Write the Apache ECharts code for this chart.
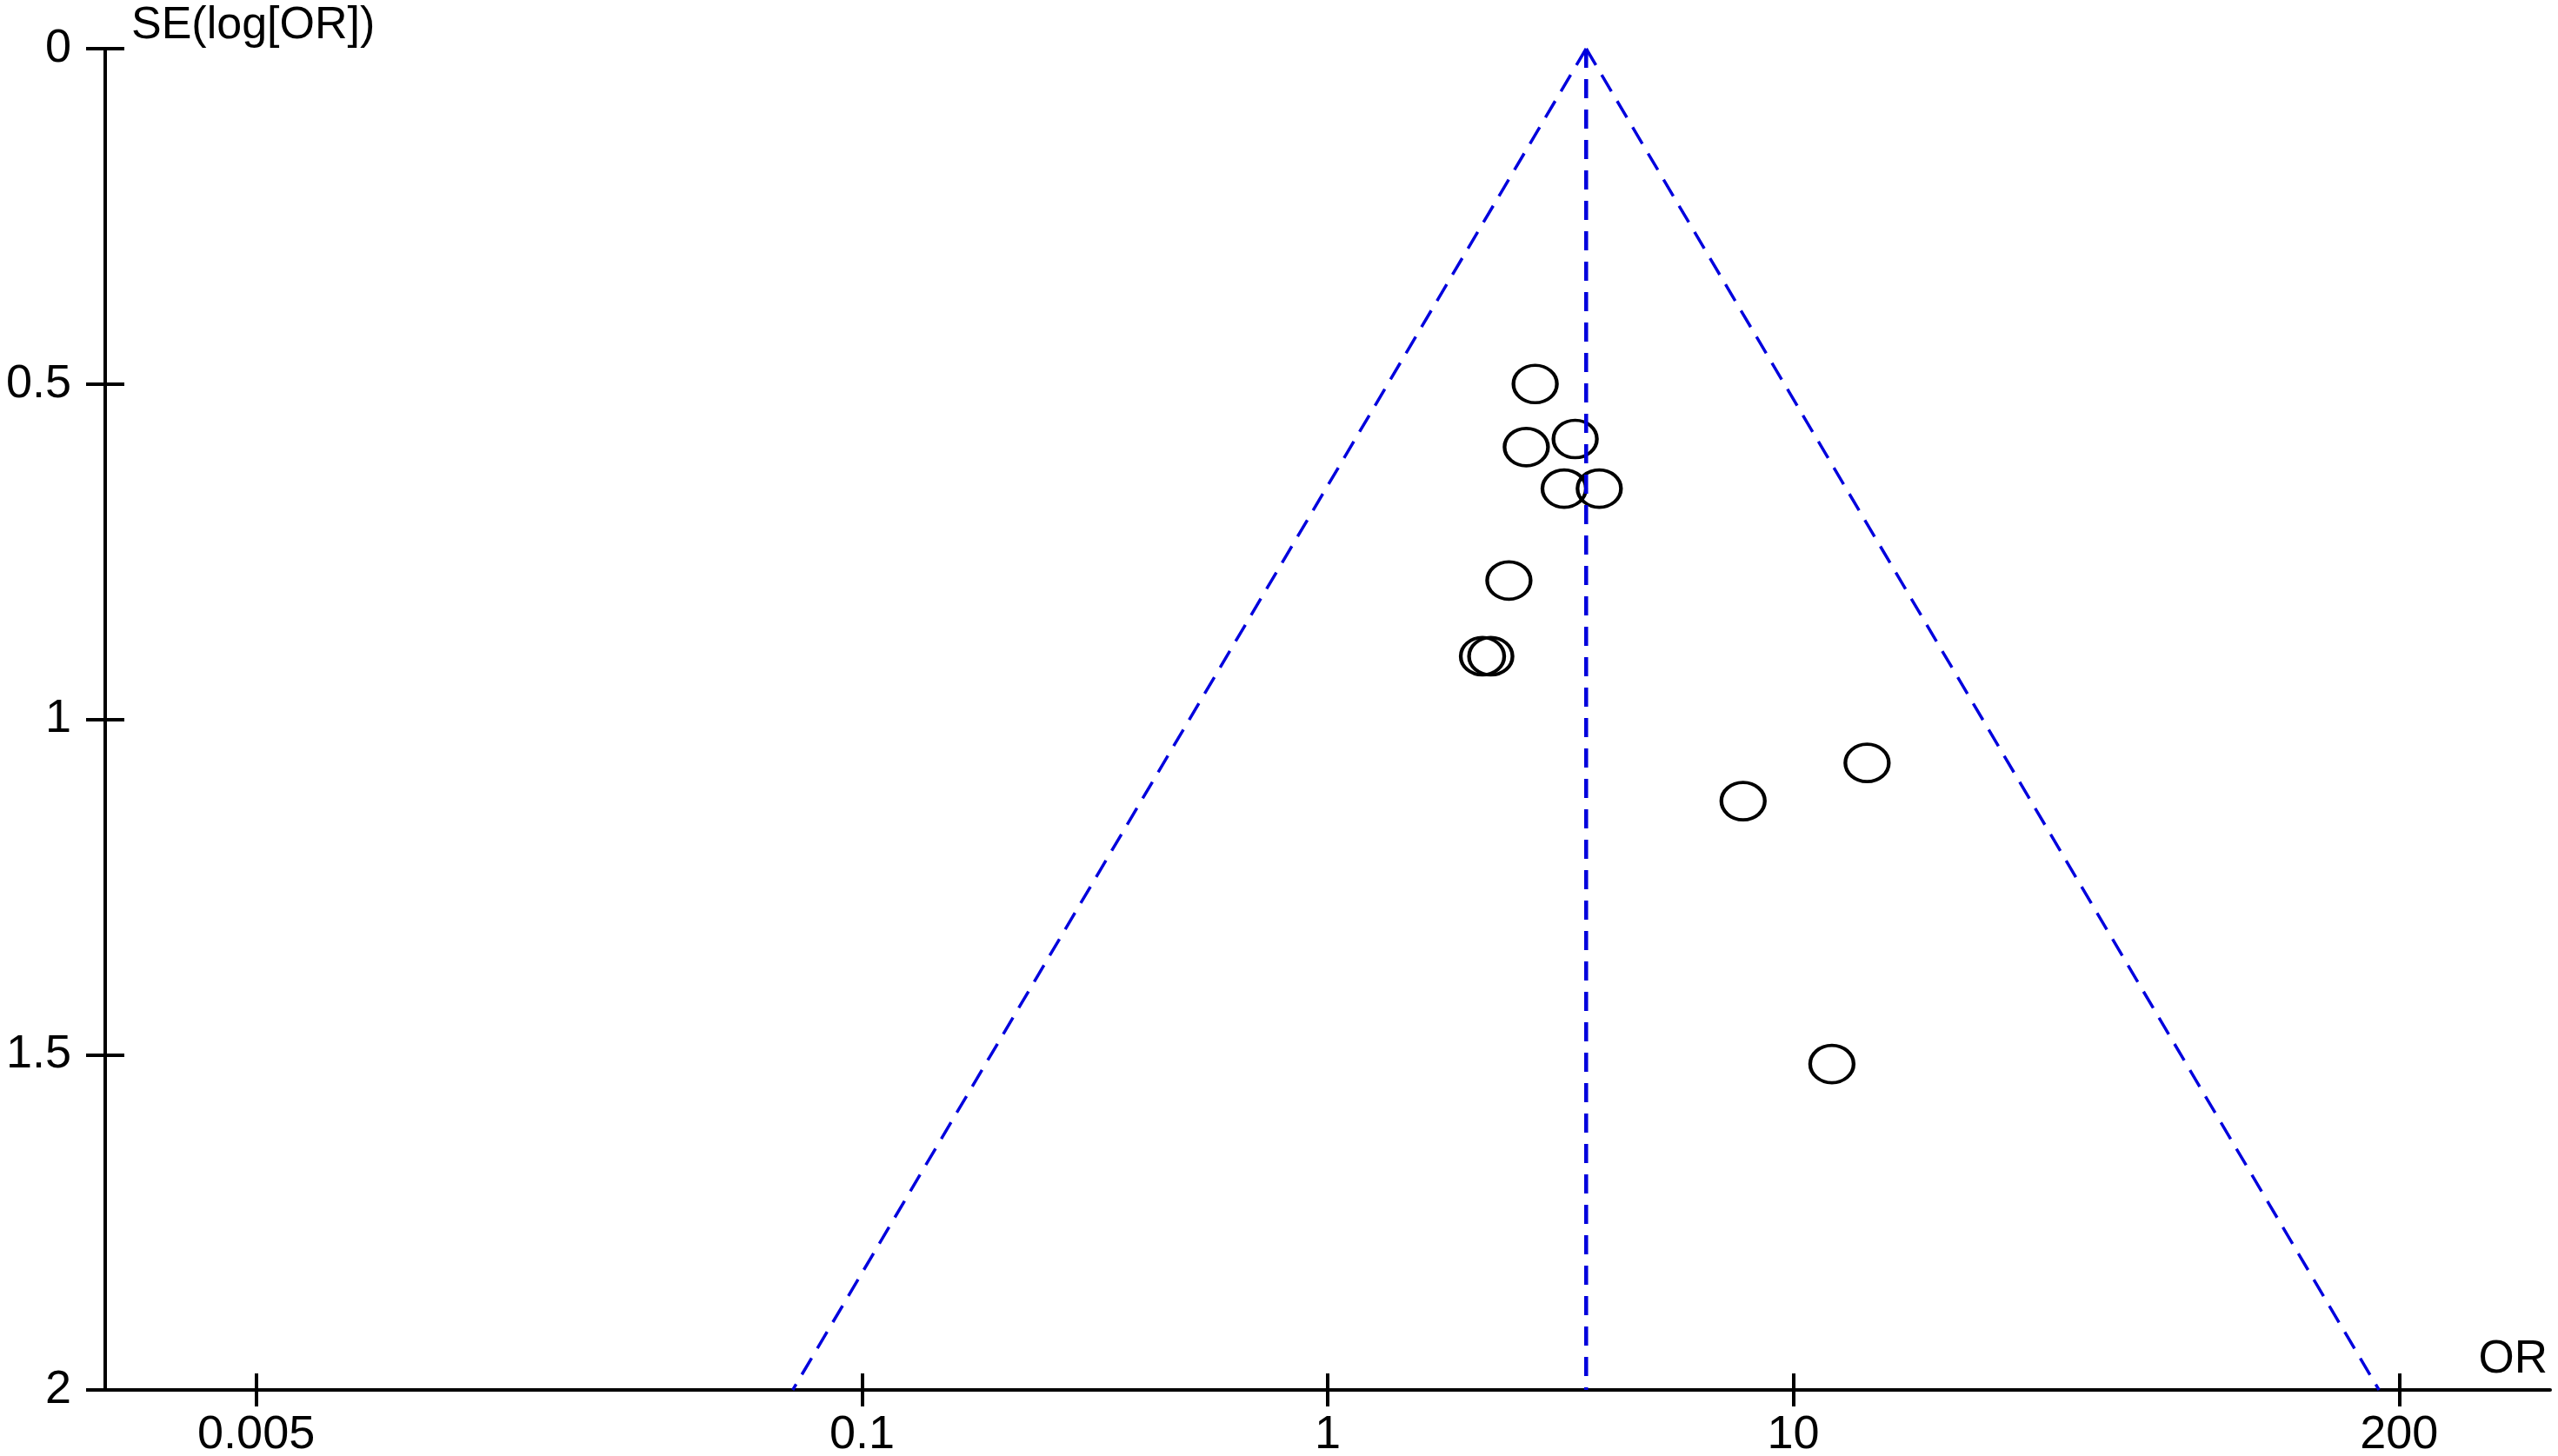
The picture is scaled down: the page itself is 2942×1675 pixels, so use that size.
<!DOCTYPE html>
<html><head><meta charset="utf-8">
<script src="https://cdn.jsdelivr.net/npm/echarts@6/dist/echarts.min.js"></script>
<style>html,body{margin:0;padding:0;background:#fff}#chart{width:2942px;height:1675px}</style>
</head><body><div id="chart"></div>
<script>
// Study estimates (odds ratio, standard error of log OR)
const studyOR = [2.79, 3.40, 2.67, 3.22, 3.83, 2.45, 2.15, 2.24, 14.4, 7.8, 12.1];
const studySE = [0.50, 0.582, 0.594, 0.656, 0.656, 0.793, 0.906, 0.906, 1.065, 1.122, 1.514];
// Pooled estimate and funnel (pseudo 95% CI) limits
const pooledOR = 3.59;
const funnelSE = [0, 2];
const funnelLowerOR = [3.59, 0.071];
const funnelUpperOR = [3.59, 181];
// Axes
const xTickValues = [0.005, 0.1, 1, 10, 200];
const xRange = [0.00237, 422];
const yRange = [0, 2];
const yStep = 0.5;
const xAxisTitle = 'OR';
const yAxisTitle = 'SE(log[OR])';

const FONT = 'Liberation Sans';
const BLUE = '#0000DD';

const scatterData = studyOR.map((v, i) => [v, studySE[i]]);
const vLine = funnelSE.map(s => [pooledOR, s]);
const lLine = funnelSE.map((s, i) => [funnelLowerOR[i], s]);
const rLine = funnelSE.map((s, i) => [funnelUpperOR[i], s]);

const chart = echarts.init(document.getElementById('chart'), null, {renderer: 'canvas'});
const xBase = {
  type: 'log', logBase: 10, min: xRange[0], max: xRange[1], position: 'bottom',
  splitLine: {show: false}, minorTick: {show: false}, minorSplitLine: {show: false}
};
const yBase = {
  type: 'value', min: yRange[0], max: yRange[1], interval: yStep, inverse: true, position: 'left',
  splitLine: {show: false}
};
chart.setOption({
  animation: false,
  backgroundColor: '#fff',
  title: {
    text: xAxisTitle, right: 12, top: 1538, padding: 0,
    textStyle: {fontFamily: FONT, fontSize: 53, fontWeight: 'normal', color: '#000', lineHeight: 53}
  },
  grid: {left: 121, right: 9, top: 56, bottom: 76, containLabel: false, outerBoundsMode: 'none'},
  xAxis: [
    Object.assign({}, xBase, {
      axisLine: {show: true, onZero: false, lineStyle: {color: '#000', width: 4}},
      axisTick: {show: true, inside: false, length: 19, customValues: xTickValues, lineStyle: {color: '#000', width: 4}},
      axisLabel: {show: true, customValues: xTickValues, margin: 25, fontFamily: FONT, fontSize: 54, color: '#000',
        showMinLabel: true, showMaxLabel: true, hideOverlap: false,
        formatter: v => String(+(+v).toPrecision(6))}
    }),
    Object.assign({}, xBase, {
      axisLine: {show: false, onZero: false},
      axisTick: {show: true, inside: true, length: 19, customValues: xTickValues, lineStyle: {color: '#000', width: 4}},
      axisLabel: {show: false}
    })
  ],
  yAxis: [
    Object.assign({}, yBase, {
      name: yAxisTitle, nameLocation: 'start', nameGap: 0, nameMoveOverlap: false,
      nameTextStyle: {fontFamily: FONT, fontSize: 52, color: '#000', align: 'left', verticalAlign: 'bottom', padding: [0, 0, 0, 30]},
      axisLine: {show: true, onZero: false, lineStyle: {color: '#000', width: 4}},
      axisTick: {show: true, inside: false, length: 22, lineStyle: {color: '#000', width: 4}},
      axisLabel: {show: true, margin: 39, fontFamily: FONT, fontSize: 54, color: '#000', showMinLabel: true, showMaxLabel: true}
    }),
    Object.assign({}, yBase, {
      axisLine: {show: false, onZero: false},
      axisTick: {show: true, inside: true, length: 22, lineStyle: {color: '#000', width: 4}},
      axisLabel: {show: false}
    })
  ],
  series: [
    {
      type: 'scatter', xAxisIndex: 0, yAxisIndex: 0, data: scatterData, z: 2,
      symbol: 'circle', symbolSize: [50, 43],
      itemStyle: {color: 'rgba(0,0,0,0)', borderColor: '#000', borderWidth: 4, opacity: 1},
      emphasis: {disabled: true}
    },
    {
      type: 'line', xAxisIndex: 0, yAxisIndex: 0, data: vLine, symbol: 'none', z: 3,
      lineStyle: {color: BLUE, width: 4.5, type: [22, 13]}, emphasis: {disabled: true}
    },
    {
      type: 'line', xAxisIndex: 0, yAxisIndex: 0, data: lLine, symbol: 'none', z: 3,
      lineStyle: {color: BLUE, width: 3.5, type: [22, 13]}, emphasis: {disabled: true}
    },
    {
      type: 'line', xAxisIndex: 0, yAxisIndex: 0, data: rLine, symbol: 'none', z: 3,
      lineStyle: {color: BLUE, width: 3.5, type: [22, 13]}, emphasis: {disabled: true}
    }
  ]
});
</script>
</body></html>
